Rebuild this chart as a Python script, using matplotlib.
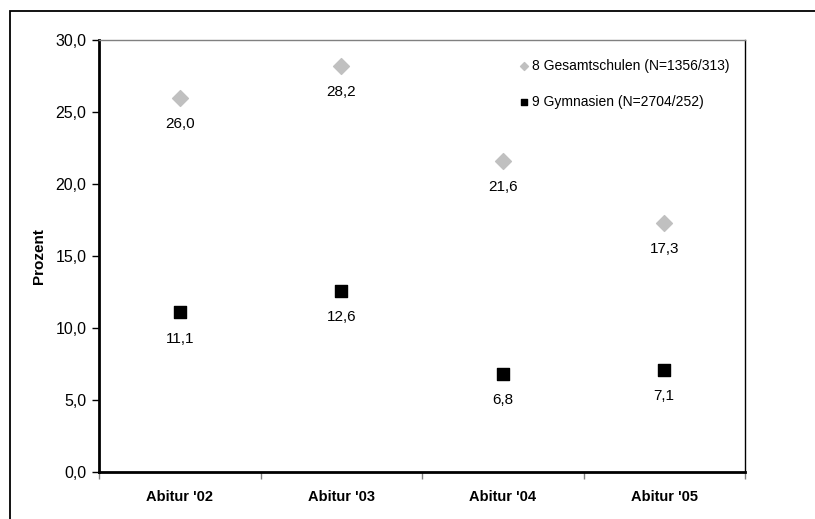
import matplotlib
matplotlib.use("Agg")
import matplotlib.pyplot as plt
from matplotlib.patches import Rectangle

plt.rcParams['font.family'] = ['Liberation Sans', 'DejaVu Sans']

# Daten
kategorien = ["Abitur '02", "Abitur '03", "Abitur '04", "Abitur '05"]
gesamtschulen = [26.0, 28.2, 21.6, 17.3]
gymnasien = [11.1, 12.6, 6.8, 7.1]
label_gesamt = "8 Gesamtschulen (N=1356/313)"
label_gym = "9 Gymnasien (N=2704/252)"
y_ticks = [0, 5, 10, 15, 20, 25, 30]


def komma(v):
    return f"{v:.1f}".replace('.', ',')


fig = plt.figure(figsize=(8.15, 5.19), dpi=100)
ax = fig.add_axes([99 / 815, 1 - 472 / 519, (745 - 99) / 815, (472 - 40) / 519])

# äußerer Rahmen (rechts/unten abgeschnitten)
fig.patches.append(Rectangle((10 / 815, -0.1), 1.2, 1 - 11 / 519 + 0.1,
                             transform=fig.transFigure, fill=False,
                             edgecolor='black', linewidth=1.3))

x = list(range(len(kategorien)))
ax.scatter(x, gesamtschulen, marker='D', s=65, color='#C0C0C0', label=label_gesamt, zorder=3)
ax.scatter(x, gymnasien, marker='s', s=85, color='black', label=label_gym, zorder=3)

for xi, v in zip(x, gesamtschulen):
    ax.annotate(komma(v), (xi, v), xytext=(0, -19), textcoords='offset points',
                ha='center', va='center', fontsize=11)
for xi, v in zip(x, gymnasien):
    ax.annotate(komma(v), (xi, v), xytext=(0, -19), textcoords='offset points',
                ha='center', va='center', fontsize=11)

ax.set_xlim(-0.5, 3.5)
ax.set_ylim(0, 30)
ax.set_yticks(y_ticks)
ax.set_yticklabels([komma(t) for t in y_ticks], fontsize=11.5)
ax.tick_params(axis='y', direction='out', length=5, width=1, pad=4)

ax.set_xticks(x)
ax.set_xticklabels(kategorien, fontsize=10.5, fontweight='bold')
ax.tick_params(axis='x', which='major', length=0, pad=13)
ax.set_xticks([-0.5, 0.5, 1.5, 2.5, 3.5], minor=True)
ax.tick_params(axis='x', which='minor', direction='out', length=5, width=1, color='#808080')

ax.set_ylabel("Prozent", fontsize=11, fontweight='bold', labelpad=7)

ax.spines['left'].set_linewidth(2)
ax.spines['bottom'].set_linewidth(2)
ax.spines['top'].set_color('#808080')
ax.spines['top'].set_linewidth(1)
ax.spines['right'].set_color('black')
ax.spines['right'].set_linewidth(1)

ax.legend(loc='upper left', bbox_to_anchor=(412 / 646, 0.97), frameon=False,
          fontsize=10, labelspacing=1.6, handletextpad=0.1, handlelength=1.0,
          markerscale=0.5, borderaxespad=0)

fig.savefig("out.png", dpi=100)
